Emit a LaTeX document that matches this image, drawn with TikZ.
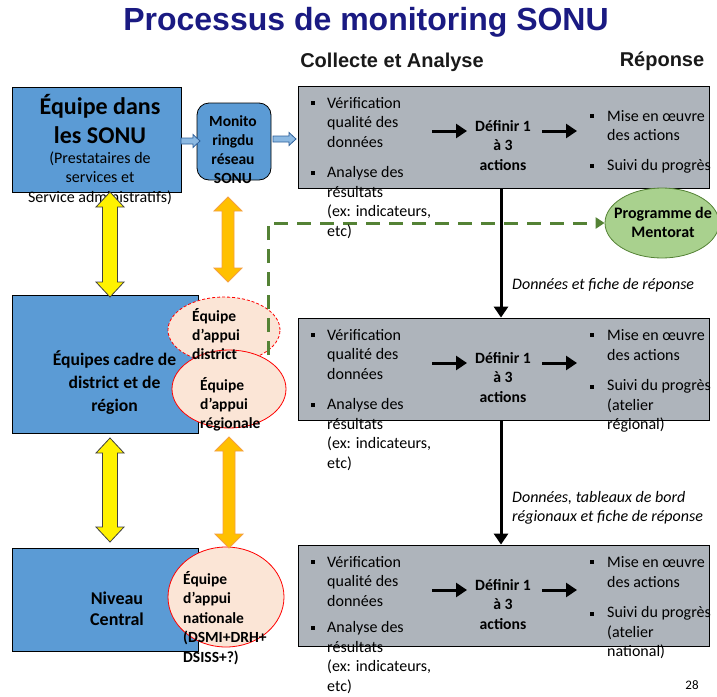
\documentclass[tikz,border=0pt]{standalone}
\usepackage{fontspec}
\setmainfont{Carlito}
\newfontfamily\titlefont{Liberation Sans}
\usetikzlibrary{arrows.meta,shapes.geometric,calc}
\definecolor{boxblue}{HTML}{5B9BD5}
\definecolor{boxgray}{HTML}{AEB4BB}
\definecolor{titleblue}{HTML}{1A1A82}
\definecolor{pinkfill}{HTML}{FBE5D6}
\definecolor{mentfill}{HTML}{A9D18E}
\definecolor{mentline}{HTML}{548235}
\definecolor{orfill}{HTML}{FFC000}
\definecolor{orline}{HTML}{F4A040}
\definecolor{smallblue}{HTML}{2E5F9A}
\newcommand\fsz[2]{\fontsize{#1}{#2}\selectfont}
% vertical double block arrow: style, x, ytop, ybot, head half width, shaft half width, head length
\newcommand\vdarr[7]{%
  \draw[#1] (#2,#3) -- (#2+#5,#3+#7) -- (#2+#6,#3+#7) -- (#2+#6,#4-#7) -- (#2+#5,#4-#7)
   -- (#2,#4) -- (#2-#5,#4-#7) -- (#2-#6,#4-#7) -- (#2-#6,#3+#7) -- (#2-#5,#3+#7) -- cycle;}
% horizontal single block arrow: x1, x2, y
\newcommand\hsarr[3]{%
  \draw[smallarr] (#1,#3-3) -- (#2-7,#3-3) -- (#2-7,#3-6.5) -- (#2,#3) -- (#2-7,#3+6.5)
   -- (#2-7,#3+3) -- (#1,#3+3) -- cycle;}
\tikzset{
  bluebox/.style={draw=black, line width=0.8pt, fill=boxblue, inner sep=0pt},
  graybox/.style={draw=black, line width=0.8pt, fill=boxgray, inner sep=0pt,
     minimum width=411pt},
  txt/.style={inner sep=0pt, font=\fsz{16}{19.5}, align=left},
  bul/.style={fill=black, inner sep=0pt, minimum size=4.6pt},
  blkarrow/.style={line width=3pt, -{Triangle[length=11pt,width=14pt]}},
  yarr/.style={fill=yellow, draw=black!75, line width=0.8pt},
  oarr/.style={fill=orfill, draw=orline, line width=0.8pt},
  smallarr/.style={fill=boxblue!70, draw=smallblue, line width=0.8pt},
  appui/.style={ellipse, fill=pinkfill, draw=red, line width=0.8pt, inner sep=0pt},
  appuitxt/.style={inner sep=0pt, font=\fsz{15.5}{19}\bfseries, align=left},
}
\begin{document}
\begin{tikzpicture}[x=1pt,y=-1pt]
\useasboundingbox (0,0) rectangle (717,696);
% titles
\node (title) at (366,22) {\titlefont\bfseries\fsz{32}{36}\color{titleblue}Processus de monitoring SONU};
\node (coll) at (392,62) {\titlefont\bfseries\fsz{20}{24}\color{black!90}Collecte et Analyse};
\node (rep) at (662,61) {\titlefont\bfseries\fsz{20}{24}\color{black!90}Réponse};

% blue boxes
\node[bluebox, minimum width=169pt, minimum height=105pt] (b1) at (96.5,139.5) {};
\node[bluebox, rounded corners=12pt, minimum width=74pt, minimum height=77pt] (mon) at (234,141.5) {};
\node[bluebox, minimum width=186pt, minimum height=138pt] (b2) at (105,364) {};
\node[bluebox, minimum width=186pt, minimum height=103pt] (b3) at (105,599.5) {};

\node[inner sep=0pt, align=center, font=\fsz{24}{29}\bfseries] (b1t) at (100,119.5) {Équipe dans\\les SONU};
\node[inner sep=0pt, align=center, font=\fsz{16}{19.5}] (b1s) at (100,178) {(Prestataires de\\services et\\Service administratifs)};
\node[inner sep=0pt, align=center, font=\fsz{15.5}{19}\bfseries] (mont) at (233,150) {Monito\\ringdu\\réseau\\SONU};
\node[inner sep=0pt, align=center, font=\fsz{17.6}{23}\bfseries] (b2t) at (114.5,383) {Équipes cadre de\\district et de\\région};
\node[inner sep=0pt, align=center, font=\fsz{18}{21}\bfseries] (b3t) at (117,608.5) {Niveau\\Central};

% small arrows
\hsarr{181}{200}{141}
\hsarr{273}{296}{139}

% gray boxes
\node[graybox, minimum height=102pt] (g1) at (503.5,137) {};
\node[graybox, minimum height=102pt] (g2) at (503.5,369) {};
\node[graybox, minimum height=101pt] (g3) at (503.5,595.5) {};

% mentorat
\node[ellipse, fill=mentfill, draw=mentline, line width=0.8pt, minimum width=114pt, minimum height=70pt, inner sep=0pt] (ment) at (662,223) {};
\node[inner sep=0pt, align=center, font=\fsz{16}{19}\bfseries] (mentt) at (663,222) {Programme de\\Mentorat};

% appui ellipses
\node[appui, dashed, dash pattern=on 3pt off 2pt, minimum width=112pt, minimum height=66pt] (dis) at (224,330) {};
\coordinate (gstart) at (268,378);
\draw[mentline, line width=3pt, dash pattern=on 14pt off 9pt, -{Triangle[length=9pt,width=11pt]}] (gstart) |- (ment.west);
\node[appui, minimum width=114pt, minimum height=78pt] (reg) at (229,389) {};
\node[appui, minimum width=116pt, minimum height=100pt] (nat) at (226,597) {};
\node[appuitxt, anchor=west] (dist) at (192,334) {Équipe\\d’appui\\district};
\node[appuitxt, anchor=west] (regt) at (200,404) {Équipe\\d’appui\\régionale};
\node[appuitxt, anchor=west, font=\fsz{15.5}{19.6}\bfseries] (natt) at (183,618) {Équipe\\d’appui\\nationale\\(DSMI+DRH+\\DSISS+?)};

% yellow and orange double arrows
\vdarr{yarr}{110}{192}{297}{14}{7.5}{15}
\vdarr{oarr}{228}{197}{282}{14}{6}{14}
\vdarr{yarr}{110}{438}{542}{14}{7.5}{15}
\vdarr{oarr}{229}{437}{548}{14}{6}{14}

% vertical black arrows
\draw[blkarrow] ($(g1.south)+(-2.5,0)$) -- ($(g2.north)+(-2.5,0)$);
\draw[blkarrow] ($(g2.south)+(-2.5,0)$) -- ($(g3.north)+(-2.5,0)$);
\node[inner sep=0pt, anchor=west, font=\fsz{16}{19.5}\itshape] (lab1) at (512,285) {Données et fiche de réponse};
\node[inner sep=0pt, anchor=west, align=left, font=\fsz{16}{19.5}\itshape] (lab2) at (512,508) {Données, tableaux de bord\\régionaux et fiche de réponse};

% gray box contents
\foreach \T/\n/\s in {86/1/0,318/2/0,545/3/-4}{
  \node[bul] (bla\n) at (313,\T+17) {};
  \node[bul] (blb\n) at (313,\T+87+\s) {};
  \node[txt, anchor=west] (la\n) at (327,\T+36.5) {Vérification\\qualité des\\données};
  \node[txt, anchor=west] (lb\n) at (327,\T+116.5+\s) {Analyse des\\résultats\\(ex: indicateurs,\\etc)};
  \node[txt, align=center, font=\fsz{15.7}{19.5}\bfseries] (d\n) at (503,\T+59.5) {Définir 1\\à 3\\actions};
  \draw[blkarrow] (432,\T+45) -- (467,\T+45);
  \draw[blkarrow] (542,\T+45) -- (577,\T+45);
}
% right column
\node[bul] (bra1) at (592,116) {};
\node[txt, anchor=west] (ra1) at (607,125.5) {Mise en œuvre\\des actions};
\node[bul] (brb1) at (592,166) {};
\node[txt, anchor=west] (rb1) at (607,166) {Suivi du progrès};
\node[bul] (bra2) at (592,335) {};
\node[txt, anchor=west] (ra2) at (607,345) {Mise en œuvre\\des actions};
\node[bul] (brb2) at (592,387) {};
\node[txt, anchor=west] (rb2) at (607,406) {Suivi du progrès\\(atelier\\régional)};
\node[bul] (bra3) at (592,562) {};
\node[txt, anchor=west] (ra3) at (607,572) {Mise en œuvre\\des actions};
\node[bul] (brb3) at (592,614) {};
\node[txt, anchor=west] (rb3) at (607,633) {Suivi du progrès\\(atelier\\national)};

\node[inner sep=0pt, font=\fsz{13}{15}] (pg) at (692,685) {28};
\end{tikzpicture}
\end{document}
